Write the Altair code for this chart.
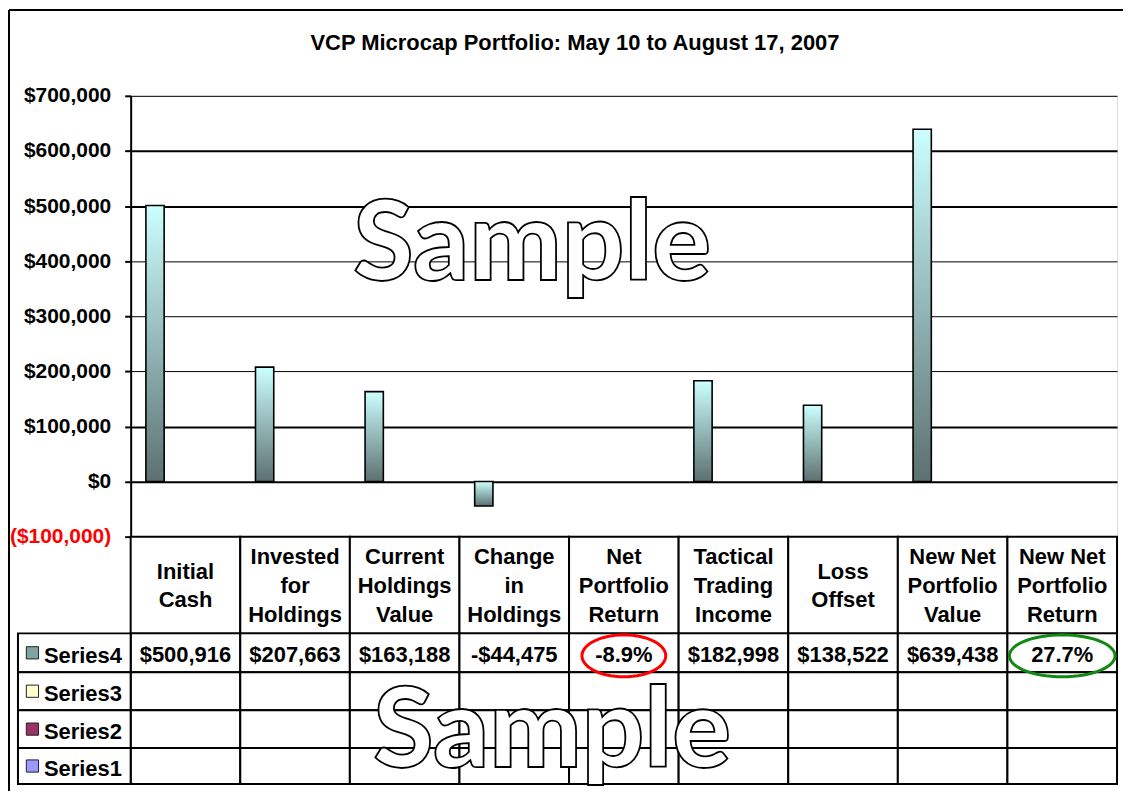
import math
import altair as alt
import pandas as pd

# ---------------- data ----------------
categories = ["Initial Cash", "Invested for Holdings", "Current Holdings Value",
              "Change in Holdings", "Net Portfolio Return", "Tactical Trading Income",
              "Loss Offset", "New Net Portfolio Value", "New Net Portfolio Return"]
header_labels = ["Initial\nCash", "Invested\nfor\nHoldings", "Current\nHoldings\nValue",
                 "Change\nin\nHoldings", "Net\nPortfolio\nReturn", "Tactical\nTrading\nIncome",
                 "Loss\nOffset", "New Net\nPortfolio\nValue", "New Net\nPortfolio\nReturn"]
series4_values = [500916, 207663, 163188, -44475, -0.089, 182998, 138522, 639438, 0.277]
series4_labels = ["$500,916", "$207,663", "$163,188", "-$44,475", "-8.9%",
                  "$182,998", "$138,522", "$639,438", "27.7%"]
series_names = ["Series4", "Series3", "Series2", "Series1"]
series_colors = ["#7FA3A3", "#FFFFCC", "#993366", "#9999FF"]
y_ticks = [-100000, 0, 100000, 200000, 300000, 400000, 500000, 600000, 700000]
title_text = "VCP Microcap Portfolio: May 10 to August 17, 2007"

# ---------------- layout constants ----------------
W, H = 989, 690          # plot area (bars + data table)
BAR_H = 442              # height of the bar region
TAB_H = H - BAR_H        # data table height
KEY_W = 113              # legend-key column left of the plot
ROW_EDGES = [0, 97, 136, 174, 212, 248]   # table row boundaries (px from table top)
LINE_H = 29
FONT = "Liberation Sans"
WM_FONT = "Lato"

cat_scale = alt.Scale(domain=categories, paddingInner=0, paddingOuter=0)
off_scale = alt.Scale(domain=series_names, paddingInner=0.1, paddingOuter=0.75)
yval_scale = alt.Scale(domain=[-100000, 700000], range=[BAR_H, 0], nice=False, zero=False)
ytab_scale = alt.Scale(domain=[0, TAB_H], range=[BAR_H, H], nice=False, zero=False)
key_scale = alt.Scale(domain=[0, KEY_W], range=[-KEY_W, 0], nice=False, zero=False)

X_CAT = alt.X("cat:N", scale=cat_scale, axis=None)

one = pd.DataFrame({"t": ["Sample"]})

# ---------------- bars ----------------
bars_df = pd.DataFrame({"cat": categories, "series": "Series4", "value": series4_values})
grad = alt.Gradient(gradient="linear", x1=0, x2=0, y1=0, y2=1,
                    stops=[alt.GradientStop(color="#CCFFFF", offset=0),
                           alt.GradientStop(color="#5C7070", offset=1)])
thick = "indexof([-100000, 0, 100000, 500000, 600000], datum.value) >= 0"
bars = alt.Chart(bars_df).mark_bar(color=grad, stroke="black", strokeWidth=1.6).encode(
    x=X_CAT,
    xOffset=alt.XOffset("series:N", scale=off_scale),
    y=alt.Y("value:Q", scale=yval_scale, axis=alt.Axis(
        values=y_ticks, title=None,
        labelExpr="datum.value < 0 ? '($' + format(-datum.value, ',') + ')' : '$' + format(datum.value, ',')",
        labelFont=FONT, labelFontSize=21, labelFontWeight="bold",
        labelColor={"condition": {"test": "datum.value < 0", "value": "#FF0000"}, "value": "#000000"},
        labelPadding=14, labelFlush=False, labelOverlap=False,
        tickSize=6, tickWidth=2, tickColor="black",
        domainColor="black", domainWidth=2,
        grid=True, gridColor="black", gridOpacity=1,
        gridWidth={"condition": {"test": thick, "value": 2}, "value": 1})),
    strokeOpacity=alt.condition("abs(datum.value) < 1", alt.value(0), alt.value(1)),
)

wm_style = dict(font=WM_FONT, fontSize=110, fontWeight=900,
                fill="white", stroke="black", strokeWidth=1.8,
                align="center", baseline="alphabetic")
wm_top = alt.Chart(one).mark_text(dx=18, **wm_style).encode(
    x=alt.X(datum="Change in Holdings", type="nominal", scale=cat_scale, axis=None),
    y=alt.Y(datum=365000, type="quantitative", scale=yval_scale, axis=None),
    text="t:N",
)

# ---------------- data table ----------------
row_names = ["header"] + series_names
cells = []
for c in categories:
    for i, r in enumerate(row_names):
        cells.append({"cat": c, "row": r, "top": ROW_EDGES[i], "bottom": ROW_EDGES[i + 1]})
cells_df = pd.DataFrame(cells)
cell_rects = alt.Chart(cells_df).mark_rect(fill="white", stroke="black", strokeWidth=2).encode(
    x=X_CAT,
    y=alt.Y("top:Q", scale=ytab_scale, axis=None),
    y2="bottom:Q",
)

key_df = pd.DataFrame({
    "series": series_names,
    "top": ROW_EDGES[1:5],
    "bottom": ROW_EDGES[2:6],
    "k0": 0, "k1": KEY_W,
})
key_df["mid"] = (key_df["top"] + key_df["bottom"]) / 2
key_rects = alt.Chart(key_df).mark_rect(fill="white", stroke="black", strokeWidth=2).encode(
    x=alt.X("k0:Q", scale=key_scale, axis=None),
    x2="k1:Q",
    y=alt.Y("top:Q", scale=ytab_scale, axis=None),
    y2="bottom:Q",
)
key_squares = alt.Chart(key_df).mark_square(size=150, stroke="#222222", strokeWidth=1,
                                            opacity=1, filled=True, dy=3).encode(
    x=alt.X(datum=14.5, type="quantitative", scale=key_scale, axis=None),
    y=alt.Y("mid:Q", scale=ytab_scale, axis=None),
    color=alt.Color("series:N", scale=alt.Scale(domain=series_names, range=series_colors), legend=None),
)
key_text = alt.Chart(key_df).mark_text(font=FONT, fontSize=22, fontWeight="bold", align="left",
                                       baseline="middle", dy=3, color="black").encode(
    x=alt.X(datum=26, type="quantitative", scale=key_scale, axis=None),
    y=alt.Y("mid:Q", scale=ytab_scale, axis=None),
    text="series:N",
)

head_mid = (ROW_EDGES[0] + ROW_EDGES[1]) / 2
head_df = pd.DataFrame({"cat": categories, "label": header_labels})
# first-line position so that the whole multi-line block is centred in the header row
head_df["y0"] = [head_mid - (lab.count("\n")) * LINE_H / 2 for lab in header_labels]
head_text = alt.Chart(head_df).mark_text(font=FONT, fontSize=22, fontWeight="bold", lineBreak="\n",
                                         lineHeight=LINE_H, align="center", baseline="middle",
                                         dy=1, color="black").encode(
    x=X_CAT,
    y=alt.Y("y0:Q", scale=ytab_scale, axis=None),
    text="label:N",
)
val_df = pd.DataFrame({"cat": categories, "label": series4_labels,
                       "mid": (ROW_EDGES[1] + ROW_EDGES[2]) / 2})
val_text = alt.Chart(val_df).mark_text(font=FONT, fontSize=22, fontWeight="bold", align="center",
                                       baseline="middle", dy=2, color="black").encode(
    x=X_CAT,
    y=alt.Y("mid:Q", scale=ytab_scale, axis=None),
    text="label:N",
)


def ellipse_path(ry, n=60):
    pts = []
    for k in range(n):
        a = 2 * math.pi * k / n
        pts.append(f"{math.cos(a):.4f},{ry * math.sin(a):.4f}")
    return "M" + " L".join(pts) + " Z"


ell_y = (ROW_EDGES[1] + ROW_EDGES[2]) / 2 + 3
ell_red = alt.Chart(one).mark_point(shape=ellipse_path(0.5), size=84 * 84, filled=False,
                                    stroke="#FF0000", strokeWidth=3, opacity=1).encode(
    x=alt.X(datum="Net Portfolio Return", type="nominal", scale=cat_scale, axis=None),
    y=alt.Y(datum=ell_y, type="quantitative", scale=ytab_scale, axis=None),
)
ell_green = alt.Chart(one).mark_point(shape=ellipse_path(42 / 106), size=106 * 106, filled=False,
                                      stroke="#118811", strokeWidth=3, opacity=1).encode(
    x=alt.X(datum="New Net Portfolio Return", type="nominal", scale=cat_scale, axis=None),
    y=alt.Y(datum=ell_y, type="quantitative", scale=ytab_scale, axis=None),
)

wm_bottom = alt.Chart(one).mark_text(dx=38, **wm_style).encode(
    x=alt.X(datum="Change in Holdings", type="nominal", scale=cat_scale, axis=None),
    y=alt.Y(datum=231, type="quantitative", scale=ytab_scale, axis=None),
    text="t:N",
)

# ---------------- outer frame (top and left edges) ----------------
frame_top = alt.Chart(one).mark_rule(color="black", strokeWidth=2).encode(
    x=alt.value(-122), x2=alt.value(995), y=alt.value(-86))
frame_left = alt.Chart(one).mark_rule(color="black", strokeWidth=2).encode(
    x=alt.value(-122), y=alt.value(-86), y2=alt.value(697))

chart = alt.layer(
    frame_top, frame_left,
    cell_rects, key_rects,
    bars,
    head_text, val_text, key_squares, key_text,
    ell_red, ell_green,
    wm_top, wm_bottom,
).resolve_scale(x="independent", y="independent", color="independent",
                strokeOpacity="independent").properties(
    width=W, height=H, padding=0,
    title=alt.TitleParams(title_text, font=FONT, fontSize=22, fontWeight="bold",
                          anchor="middle", frame="bounds", baseline="alphabetic",
                          offset=-63, dx=9, color="black"),
).configure_view(stroke=None).configure(background="white")

chart.save("out.html", embed_options={"renderer": "svg", "actions": False})
